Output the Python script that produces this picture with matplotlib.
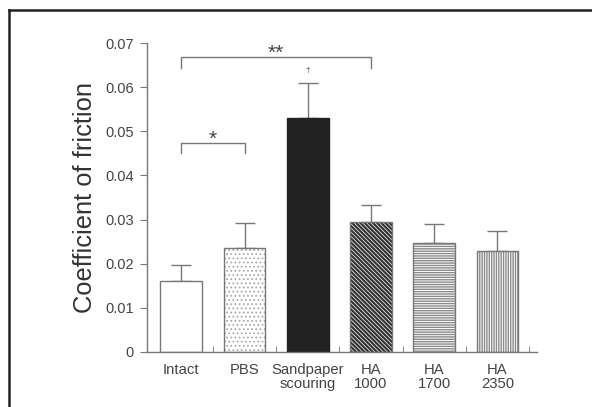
import numpy as np
import matplotlib.pyplot as plt
from matplotlib.lines import Line2D

plt.rcParams['font.family'] = ['Liberation Sans', 'DejaVu Sans']

# data
groups = ["Intact", "PBS", "Sandpaper\nscouring", "HA\n1000", "HA\n1700", "HA\n2350"]
means = [0.0160, 0.0235, 0.0530, 0.0295, 0.0247, 0.0228]
errors = [0.0036, 0.0057, 0.0079, 0.0038, 0.0043, 0.0046]
hatches = ["", "....", "", "\\" * 8, "-" * 7, "|" * 7]
faces = ["white", "white", "#222222", "white", "white", "white"]
hatch_cols = ["#888888", "#aaaaaa", "#222222", "#333333", "#8a8a8a", "#8a8a8a"]
hatch_lw = [0.8, 0.8, 0.8, 1.6, 1.0, 1.0]

grey = "#777777"
txt = "#444444"

fig = plt.figure(figsize=(5.92, 4.07), dpi=100)
ax = fig.add_axes([0.2475, 0.136, 0.66, 0.7575])

x = np.arange(len(groups))
for i in range(len(groups)):
    plt.rcParams['hatch.linewidth'] = hatch_lw[i]
    b = ax.bar(x[i], means[i], width=0.66, color=faces[i], edgecolor=hatch_cols[i],
               hatch=hatches[i], linewidth=0, zorder=2)
    for p in b.patches:
        if hasattr(p, "set_hatch_linewidth"):
            p.set_hatch_linewidth(hatch_lw[i])
    ax.bar(x[i], means[i], width=0.66, color="none", edgecolor=grey if i != 2 else "#222222",
           linewidth=1.0, zorder=3)
    ax.errorbar(x[i], means[i], yerr=[[0], [errors[i]]], fmt="none", ecolor=grey,
                elinewidth=1.0, capsize=7.5, capthick=1.0, zorder=1)

ax.set_xlim(-0.55, 5.63)
ax.set_ylim(0, 0.07)
ax.set_yticks(np.arange(0, 0.071, 0.01))
ax.set_yticklabels(["0", "0.01", "0.02", "0.03", "0.04", "0.05", "0.06", "0.07"])
ax.set_xticks(x)
ax.set_xticklabels(groups, linespacing=1.05)
ax.set_xticks(x + 0.5, minor=True)

ax.tick_params(axis="x", which="major", length=0, pad=8, labelsize=10.7, labelcolor=txt)
ax.tick_params(axis="x", which="minor", direction="in", length=4, color=grey)
ax.tick_params(axis="y", length=5, color=grey, labelsize=10.5, labelcolor=txt, pad=4)

for s in ["top", "right"]:
    ax.spines[s].set_visible(False)
for s in ["left", "bottom"]:
    ax.spines[s].set_color(grey)
    ax.spines[s].set_linewidth(1.0)

ax.set_ylabel("Coefficient of friction", fontsize=18.4, color="#333333", labelpad=6)

# significance brackets
def bracket(x0, x1, y, drop, label):
    ax.plot([x0, x0, x1, x1], [y - drop, y, y, y - drop], color=grey, lw=1.0,
            clip_on=False)
    ax.text((x0 + x1) / 2, y - 0.0004, label, ha="center", va="baseline",
            fontsize=15, color=txt)

bracket(0, 1, 0.0474, 0.0024, "*")
bracket(0, 3, 0.0668, 0.0025, "**")
ax.text(2, 0.0639, "\u2020", ha="center", va="center", fontsize=6, color=txt)

# outer frame
fig.add_artist(Line2D([9 / 592, 1], [1 - 10 / 407, 1 - 10 / 407], color="#222222", lw=1.8))
fig.add_artist(Line2D([9 / 592, 9 / 592], [0, 1 - 10 / 407], color="#222222", lw=1.8))

fig.savefig("out.png", dpi=100)
